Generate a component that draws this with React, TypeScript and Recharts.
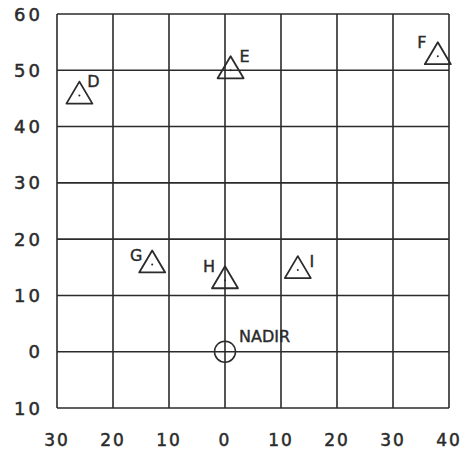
import React from 'react';
import { ScatterChart, Scatter, XAxis, YAxis, CartesianGrid } from 'recharts';

// station positions (x: left/right offset, y: forward offset)
const stations = ['D', 'E', 'F', 'G', 'H', 'I'];
const stationX = [-26, 1, 38, -13, 0, 13];
const stationY = [45.5, 50, 52.5, 15.5, 12.7, 14.5];
// which side of the triangle the letter sits on
const labelSide: Record<string, 'left' | 'right'> = {
  D: 'right', E: 'right', F: 'left', G: 'left', H: 'left', I: 'right',
};

const nadir = [{ x: 0, y: 0, name: 'NADIR' }];

const xTicks = [-30, -20, -10, 0, 10, 20, 30, 40];
const yTicks = [-10, 0, 10, 20, 30, 40, 50, 60];

const stationData = stations.map((name, i) => ({ name, x: stationX[i], y: stationY[i] }));

const INK = '#2b2b2b';
const FONT = '"DejaVu Sans", sans-serif';

const Triangle = (props: any) => {
  const { cx, cy, payload } = props;
  const side = labelSide[payload.name];
  const top = cy - 14;
  const base = cy + 8;
  const low = payload.name === 'G' || payload.name === 'I';
  return (
    <g>
      <path
        d={`M${cx},${top} L${cx + 13},${base} L${cx - 13},${base} Z`}
        fill="none"
        stroke={INK}
        strokeWidth={1.8}
        strokeLinejoin="round"
      />
      <circle cx={cx} cy={cy} r={1} fill={INK} />
      <text
        x={side === 'right' ? cx + 14 : cx - 16}
        y={low ? cy - 9 : cy - 14}
        textAnchor="middle"
        dominantBaseline="central"
        fontFamily={FONT}
        fontSize={16}
        stroke={INK}
        strokeWidth={0.4}
        fill={INK}
      >
        {payload.name}
      </text>
    </g>
  );
};

const NadirMark = (props: any) => {
  const { cx, cy, payload } = props;
  return (
    <g>
      <circle cx={cx} cy={cy} r={10.5} fill="none" stroke={INK} strokeWidth={1.5} />
      <text
        x={cx + 14}
        y={cy - 15}
        dominantBaseline="central"
        fontFamily={FONT}
        fontSize={16}
        stroke={INK}
        strokeWidth={0.4}
        fill={INK}
      >
        {payload.name}
      </text>
    </g>
  );
};

const YTick = (props: any) => {
  const { x, y, payload } = props;
  return (
    <text x={x} y={y} textAnchor="end" dominantBaseline="central"
      fontFamily={FONT} fontSize={18} letterSpacing={3} stroke={INK} strokeWidth={0.5} fill={INK}>
      {Math.abs(payload.value)}
    </text>
  );
};

const XTick = (props: any) => {
  const { x, y, payload } = props;
  return (
    <text x={x} y={y} dy="0.71em" textAnchor="middle"
      fontFamily={FONT} fontSize={17} letterSpacing={2} stroke={INK} strokeWidth={0.5} fill={INK}>
      {Math.abs(payload.value)}
    </text>
  );
};

export default function App() {
  return (
    <div style={{ position: 'fixed', top: 0, left: 0, background: '#fff' }}>
      <ScatterChart width={463} height={452} margin={{ top: 14, right: 14, bottom: 0, left: 12 }}>
        <CartesianGrid stroke={INK} strokeWidth={1.6} horizontalValues={yTicks} verticalValues={xTicks} />
        <XAxis
          type="number"
          dataKey="x"
          domain={[-30, 40]}
          ticks={xTicks}
          interval={0}
          axisLine={false}
          tickLine={false}
          tickSize={0}
          tickMargin={26}
          height={44}
          tick={<XTick />}
        />
        <YAxis
          type="number"
          dataKey="y"
          domain={[-10, 60]}
          ticks={yTicks}
          interval={0}
          axisLine={false}
          tickLine={false}
          tickSize={0}
          tickMargin={14}
          width={45}
          tick={<YTick />}
        />
        <Scatter data={stationData} shape={<Triangle />} isAnimationActive={false} />
        <Scatter data={nadir} shape={<NadirMark />} isAnimationActive={false} />
      </ScatterChart>
    </div>
  );
}
